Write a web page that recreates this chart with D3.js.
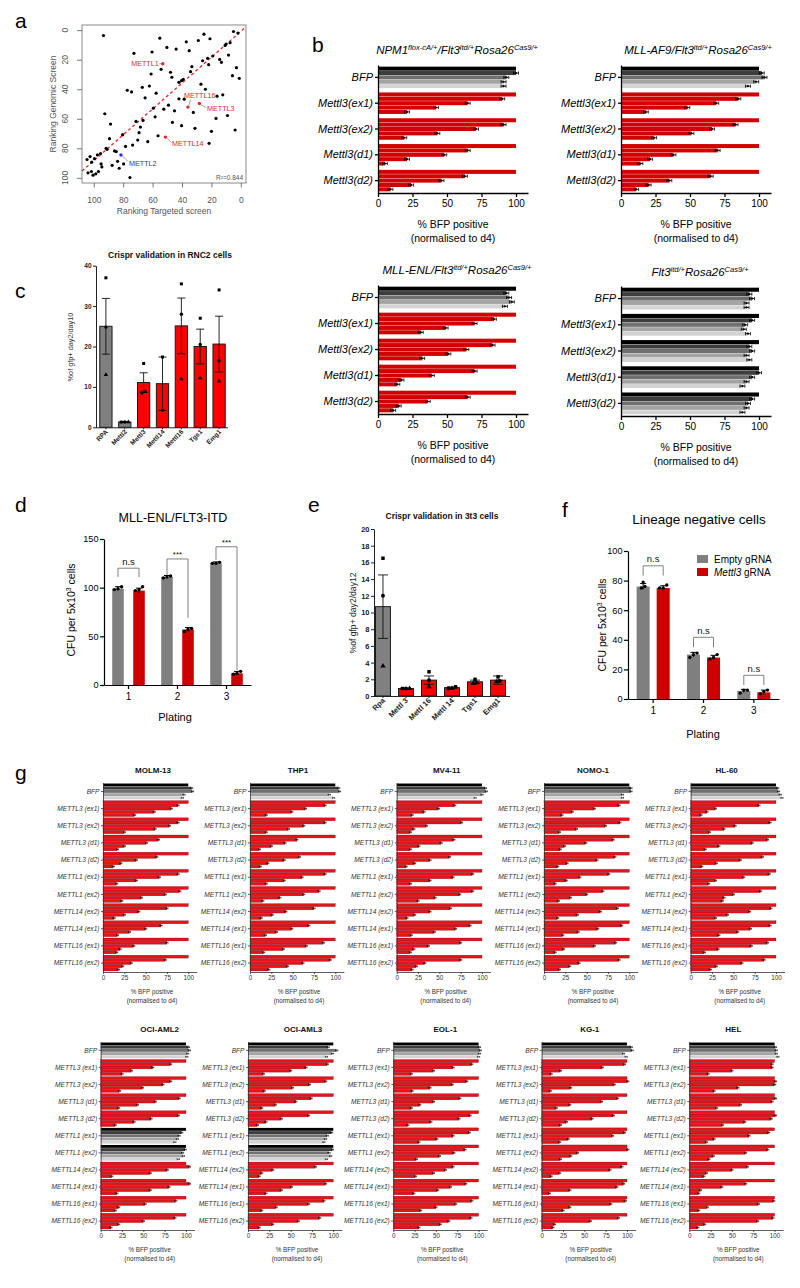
<!DOCTYPE html>
<html><head><meta charset="utf-8">
<script src="https://cdn.jsdelivr.net/npm/d3@7"></script>
<style>body{margin:0;background:#fff}svg{display:block}</style>
</head><body><script>
// ================= DATA =================
// Panel a: ranking scatter
const aTargeted = [93.4,72.7,60.4,55.1,50.3,44,37.1,35.1,28.9,25.1,21,5,2,7.3,10,10.7,8.4,14.4,13.2,22.6,21.9,26,19.1,33.3,34.2,47.8,46.9,61,54.2,39.2,42.1,40.3,3,5.7,1.1,27.1,24.1,62.2,67,77.2,74.3,65.1,57.6,42.1,38.5,16.2,12.3,49.2,52.4,59.5,45.1,32.3,9.1,16.9,58.3,92.5,66.5,71.3,88.6,68.3,46.5,40.3,31.2,20,3.9,69.2,70.1,73.6,78.4,80.4,89.3,63.3,56.3,21.6,91.6,90.9,95.4,85.9,84.7,83.8,79.7,87.5,82.7,104.6,102.5,99.5,97.5,101.4,103.9,101.6,100.5,98.6,96.8,94.5,75.4,95];
const aGenomic = [3.6,15.7,14.8,5.4,11.7,12.8,7.9,13.9,7,2.7,5.8,0.9,2,8.5,9.4,10.3,16.9,19.8,21.8,19.1,23.4,20.7,17.5,24.7,28.1,28.5,31.9,29.7,26.5,33.3,35.3,34.2,25.4,30.8,32.6,36.6,40,37.8,38.7,40.7,41.8,45.8,42.7,46.5,46.7,44.7,43.8,50.8,53.5,52.8,54.6,55.7,57.8,59.8,58.7,56.6,61.1,61.8,63.6,65.6,62.5,64.7,66.5,68.5,67.6,69.4,74.4,77.8,78.7,70.8,73.5,75.5,71.5,76.6,80,80.7,83.6,81.8,82.2,88.8,90.6,91.5,93.5,87.6,85.6,87,84.5,89.4,96.6,95.7,98.2,97.3,95.7,92.6,99.8,90.6];
const aHiNames = ["METTL1","METTL16","METTL3","METTL14","METTL2"];
const aHiTargeted = [53.1,36,28.2,51.3,81.5];
const aHiGenomic = [22.7,52.1,49.7,72.4,84.5];
const aTicks = [100,80,60,40,20,0];
const aSlope = 0.876, aIntercept = 0.8;
const aR2 = "R²=0.844";

// Panel b: mouse models, % BFP positive
const bGroups = ["BFP","Mettl3(ex1)","Mettl3(ex2)","Mettl3(d1)","Mettl3(d2)"];
const bTicks = [0,25,50,75,100];
const bNPM1 = [[100,100,93,91,91],[100,90,65,42,21],[100,91,71,43,19],[100,65,48,21,5],[100,63,46,24,9]];
const bMLLAF9 = [[100,102,104,98,92],[100,85,69,48,18],[100,83,66,51,24],[100,70,38,21,14],[100,65,35,20,11]];
const bMLLENL = [[100,93,95,97,92],[100,84,70,49,31],[100,83,64,51,32],[100,70,39,17,14],[100,65,36,15,11]];
const bFlt3 = [[100,93,95,91,91],[100,95,90,89,92],[100,93,95,91,93],[100,100,95,91,88],[100,95,92,91,88]];
const bErr = 1.8;

// Panel c: RNC2 validation
const cCats = ["RPA","Mettl2","Mettl3","Mettl14","Mettl16","Tgs1","Emg1"];
const cMean = [25,1.3,11.1,10.8,25.1,20,20.6];
const cSem = [6.9,0.1,2.4,6.6,6.9,4.3,6.9];
const cPoints = [[37,24.8,13],[1.3,1.3,1.3],[15.8,8.5,8.8],[17.4,4.2],[35.5,28,12],[27,20.5,12.2],[34,16.5,11.4]];
const cControls = ["RPA","Mettl2"];
const cTicks = [0,10,20,30,40];

// Panel d: MLL-ENL/FLT3-ITD CFU
const dCats = ["1","2","3"];
const dEmpty = [99,111,125], dEmptyErr = [2,1.5,1.5];
const dEmptyPts = [[101,99,98],[112,110,111],[126,125,125]];
const dMettl3 = [97,57,12], dMettl3Err = [2.5,2,2];
const dMettl3Pts = [[101,97,98],[58,55,57],[14,11,12]];
const dSig = ["n.s","***","***"];
const dBrTop = [120,129.5,142], dBrLeft = [111,113,128.5], dBrRight = [111,69,15.5];
const dTicks = [0,50,100,150];

// Panel e: 3t3 validation
const eCats = ["Rpa","Mettl 3","Mettl 16","Mettl 14","Tgs1","Emg1"];
const eMean = [10.7,0.9,1.9,1.0,1.7,1.9];
const eSem = [3.8,0.05,0.5,0.1,0.2,0.5];
const ePoints = [[16.5,12,3.6],[0.9,0.9,0.9],[2.9,1.9,1.1],[1.1,0.9,0.9],[2.0,1.6,1.5],[2.3,1.8,1.7]];
const eControls = ["Rpa"];
const eTicks = [0,2,4,6,8,10,12,14,16,18,20];

// Panel f: lineage negative cells CFU
const fCats = ["1","2","3"];
const fEmpty = [76,30,5.5], fEmptyErr = [2,1.5,1];
const fEmptyPts = [[79,76,75],[31,28,30],[6,4,6]];
const fMettl3 = [75,28,4.5], fMettl3Err = [1.5,1.5,1.5];
const fMettl3Pts = [[77,75,75],[30,27,28],[6,3.5,5]];
const fSig = ["n.s","n.s","n.s"];
const fBrTop = [90,41.7,16], fBrLeg = [83.4,35,9.4];
const fTicks = [0,20,40,60,80,100];

// Panel g: human AML lines
const gGroups = ["BFP","METTL3 (ex1)","METTL3 (ex2)","METTL3 (d1)","METTL3 (d2)","METTL1 (ex1)","METTL1 (ex2)","METTL14 (ex2)","METTL14 (ex1)","METTL16 (ex1)","METTL16 (ex2)"];
const gMOLM13 = [[100,104,105,95,93],[100,88,80,60,37],[100,88,78,61,25],[100,65,51,25,17],[100,63,39,21,12],[100,88,66,39,16],[100,90,73,45,22],[100,75,42,25,13],[100,68,50,31,17],[100,75,36,20,16],[100,73,33,23,18]];
const gTHP1 = [[100,104,105,93,98],[100,88,65,49,19],[100,88,63,45,19],[100,55,41,25,11],[100,58,40,21,12],[100,88,61,40,19],[100,81,63,35,15],[100,75,42,26,13],[100,69,49,31,18],[100,86,66,39,16],[100,94,62,44,22]];
const gMV411 = [[100,104,105,100,92],[100,68,49,32,18],[100,76,35,20,16],[100,67,52,26,16],[100,62,39,21,11],[100,89,66,39,16],[100,89,74,45,25],[100,63,39,21,12],[100,86,69,44,17],[100,75,37,20,16],[100,75,33,23,18]];
const gNOMO1 = [[100,102,102,92,92],[100,88,59,33,21],[100,89,72,38,18],[100,81,49,24,19],[100,83,62,27,16],[100,76,42,26,13],[100,69,50,31,17],[100,86,66,39,16],[100,91,63,40,22],[100,84,59,23,13],[100,88,41,30,18]];
const gHL60 = [[100,102,103,105,107],[100,80,29,19,12],[100,93,52,39,22],[100,90,72,33,17],[100,84,58,30,13],[100,92,62,29,21],[100,82,50,39,37],[100,94,69,43,29],[100,93,70,55,33],[100,90,71,32,16],[100,86,60,30,23]];
const gOCIAML2 = [[100,103,104,102,101],[100,82,61,36,25],[100,82,73,49,22],[100,92,64,43,21],[100,91,59,39,17],[100,95,92,90,87],[100,99,96,97,91],[100,104,78,58,13],[100,104,80,58,19],[100,88,52,21,17],[100,87,50,21,12]];
const gOCIAML3 = [[100,94,104,99,92],[100,93,68,50,18],[100,91,72,52,19],[100,74,56,32,16],[100,71,39,21,11],[100,98,93,91,89],[100,99,95,97,92],[100,79,29,16,13],[100,91,51,39,21],[100,89,71,33,16],[100,84,59,29,13]];
const gEOL1 = [[100,101,102,101,100],[100,92,70,47,21],[100,86,69,43,22],[100,78,47,31,21],[100,90,77,44,17],[100,89,70,51,30],[100,84,71,54,27],[100,70,61,47,26],[100,85,67,52,24],[100,92,73,50,32],[100,91,65,55,30]];
const gKG1 = [[100,105,106,96,99],[100,97,71,22,11],[100,101,85,34,10],[100,89,70,33,17],[100,84,59,29,22],[100,97,83,31,21],[100,101,42,34,22],[100,94,80,21,11],[100,96,88,33,9],[100,98,81,33,25],[100,90,57,15,13]];
const gHEL = [[100,101,102,102,104],[100,97,97,50,22],[100,101,100,57,29],[100,101,97,60,32],[100,101,96,65,39],[100,93,70,29,20],[100,92,66,28,23],[100,68,50,20,17],[100,66,38,13,11],[100,99,81,21,11],[100,98,80,18,10]];
const gErr = 1.3;

// ================= DRAWING =================
const FONT = "'Liberation Sans', Arial, Helvetica, sans-serif";
const svg = d3.select("body").append("svg").attr("width",800).attr("height",1288)
  .style("font-family",FONT);
const GRAYS = ["#000000","#3d3d3d","#707070","#a4a4a4","#d3d3d3"];

function txt(x,y,s,o={}){
  const t = svg.append("text").attr("x",x).attr("y",y).text(s)
    .attr("font-size",o.fs||10).attr("fill",o.fill||"#000").attr("text-anchor",o.anchor||"start");
  if(o.bold) t.attr("font-weight","bold");
  if(o.italic) t.attr("font-style","italic");
  if(o.rot!=null) t.attr("transform",`rotate(${o.rot},${x},${y})`);
  return t;
}
function rich(x,y,parts,o={}){
  const t = svg.append("text").attr("x",x).attr("y",y).attr("font-size",o.fs).attr("fill",o.fill||"#000")
    .attr("text-anchor",o.anchor||"middle");
  if(o.italic) t.attr("font-style","italic");
  if(o.rot!=null) t.attr("transform",`rotate(${o.rot},${x},${y})`);
  let shifted=false;
  parts.forEach(p=>{
    const ts = t.append("tspan").text(p[0]);
    if(p[1]){ ts.attr("font-size",o.sfs).attr("dy",-o.sh); shifted=true; }
    else if(shifted){ ts.attr("dy",o.sh); shifted=false; }
    if(p[2]) ts.attr("font-style","italic");
  });
  return t;
}
function axisStyle(sel,fs,color,sw,ex={}){
  sel.attr("font-family",FONT).attr("font-size",fs).attr("color",color);
  sel.selectAll("path,line").attr("stroke-width",sw);
  if(ex.bold) sel.selectAll("text").attr("font-weight","bold");
  if(ex.italic) sel.selectAll("text").attr("font-style","italic");
  return sel;
}
function spreadOffsets(vals,y,thr,gap){
  const idx = vals.map((v,i)=>i).sort((a,b)=>vals[a]-vals[b]);
  const off = vals.map(()=>0);
  let cl=[idx[0]];
  const flush=()=>cl.forEach((k,j)=>off[k]=(j-(cl.length-1)/2)*gap);
  for(let i=1;i<idx.length;i++){
    if(Math.abs(y(vals[idx[i]])-y(vals[cl[cl.length-1]]))<thr) cl.push(idx[i]);
    else { flush(); cl=[idx[i]]; }
  }
  flush();
  return off;
}

// ---- panel letters ----
[["a",15,28],["b",312,52],["c",15,298],["d",15,512],["e",308,512],["f",562,517],["g",15,780]]
  .forEach(([s,x,y])=>txt(x,y,s,{fs:21}));

// ---- Panel a ----
{
  const x = d3.scaleLinear().domain([108,-3.5]).range([82,246]);
  const y = d3.scaleLinear().domain([-3.5,103.5]).range([25,183]);
  const g = svg.append("g");
  g.append("rect").attr("x",82).attr("y",25).attr("width",164).attr("height",158)
    .attr("fill","none").attr("stroke","#8a8a8a").attr("stroke-width",1);
  const gx = g.append("g").attr("transform","translate(0,183)")
    .call(d3.axisBottom(x).tickValues(aTicks).tickSize(4.5).tickPadding(9));
  gx.select(".domain").remove();
  axisStyle(gx,8.5,"#555",0.8);
  const gy = g.append("g").attr("transform","translate(82,0)")
    .call(d3.axisLeft(y).tickValues(aTicks).tickSize(5).tickFormat(""));
  gy.select(".domain").remove();
  axisStyle(gy,8.5,"#555",0.8);
  aTicks.forEach(v=>g.append("text").attr("transform",`translate(68,${y(v)}) rotate(-90)`)
    .attr("text-anchor","middle").attr("font-size",8.5).attr("fill","#555").text(v));
  g.append("text").attr("transform","translate(55.5,104) rotate(-90)").attr("text-anchor","middle")
    .attr("font-size",8.5).attr("fill","#555").text("Ranking Genomic Screen");
  g.append("text").attr("x",164).attr("y",214).attr("text-anchor","middle")
    .attr("font-size",8.5).attr("fill","#555").text("Ranking Targeted screen");
  // fit line
  g.append("line").attr("x1",x(108)).attr("y1",y(aSlope*108+aIntercept))
    .attr("x2",x(-3.5)).attr("y2",y(aSlope*-3.5+aIntercept))
    .attr("stroke","#e8262b").attr("stroke-width",1.3).attr("stroke-dasharray","3,2.6");
  aTargeted.forEach((v,i)=>g.append("circle").attr("cx",x(v)).attr("cy",y(aGenomic[i])).attr("r",1.6).attr("fill","#000"));
  // highlighted genes (label layout offsets in px)
  const lay = [
    {dx:-4,dy:2.5,anchor:"end",l:[-3.5,0,-1.5,0]},
    {dx:-4,dy:-9.6,anchor:"start",l:[1,-1.5,2.5,-7.5]},
    {dx:7.6,dy:7,anchor:"start",l:[1.5,1,7,4]},
    {dx:6.6,dy:9.4,anchor:"start",l:[1.5,1,6,5.5]},
    {dx:8,dy:10.6,anchor:"start",l:[1.5,1,7,6.5]}
  ];
  aHiNames.forEach((n,i)=>{
    const px=x(aHiTargeted[i]), py=y(aHiGenomic[i]);
    const col = n==="METTL2" ? "#2f2fe0" : "#e8262b";
    const L = lay[i];
    g.append("line").attr("x1",px+L.l[0]).attr("y1",py+L.l[1]).attr("x2",px+L.l[2]).attr("y2",py+L.l[3])
      .attr("stroke","#777").attr("stroke-width",0.7);
    g.append("circle").attr("cx",px).attr("cy",py).attr("r",1.7).attr("fill",col);
    g.append("text").attr("x",px+L.dx).attr("y",py+L.dy).attr("text-anchor",L.anchor)
      .attr("font-size",7.2).attr("fill",col).text(n);
  });
  g.append("text").attr("x",243).attr("y",180).attr("text-anchor","end").attr("font-size",6.5)
    .attr("fill","#555").text(aR2);
}

// ---- horizontal grouped bar chart helper (panels b and g) ----
function hChart(o){
  const x = d3.scaleLinear().domain([0,o.xMax]).range([o.x0,o.x0+o.w]);
  const y = d3.scaleBand().domain(o.groups).range([o.top,o.bottom]).paddingInner(o.pin).paddingOuter(o.pout);
  const nb = o.data[0].length;
  const yb = d3.scaleBand().domain(d3.range(nb)).range([0,y.bandwidth()]).paddingInner(o.bpad);
  const g = svg.append("g");
  o.groups.forEach((grp,gi)=>{
    const isGray = o.gray.includes(grp);
    o.data[gi].forEach((v,bi)=>{
      const yy=y(grp)+yb(bi), h=yb.bandwidth();
      g.append("rect").attr("x",x(0)).attr("y",yy).attr("width",x(v)-x(0)).attr("height",h)
        .attr("fill",isGray?GRAYS[bi]:o.red)
        .attr("stroke",isGray?"none":(o.redStroke||"none")).attr("stroke-width",o.redSW||0);
      if(bi>0){
        const cy=yy+h/2, x1=x(v-o.err), x2=x(v+o.err);
        g.append("line").attr("x1",x1).attr("x2",x2).attr("y1",cy).attr("y2",cy).attr("stroke","#000").attr("stroke-width",o.ew);
        [x1,x2].forEach(xx=>g.append("line").attr("x1",xx).attr("x2",xx).attr("y1",cy-o.cap).attr("y2",cy+o.cap)
          .attr("stroke","#000").attr("stroke-width",o.ew));
        if(o.dot) g.append("circle").attr("cx",x(v)).attr("cy",cy).attr("r",o.dot).attr("fill","#000");
      }
    });
  });
  const gx = g.append("g").attr("transform",`translate(0,${o.bottom})`)
    .call(d3.axisBottom(x).tickValues(o.ticks).tickSize(o.tick).tickSizeOuter(0).tickPadding(o.tpad));
  axisStyle(gx,o.fsTick,o.axisColor,o.lw);
  const gy = g.append("g").attr("transform",`translate(${o.x0},0)`)
    .call(d3.axisLeft(y).tickSize(o.ytick).tickSizeOuter(0).tickPadding(o.ytpad));
  axisStyle(gy,o.fsY,o.axisColor,o.lw,{italic:true});
  gy.selectAll("text").attr("fill",o.labelColor);
  o.xTitle.forEach((s,i)=>g.append("text").attr("x",o.x0+o.xtDx).attr("y",o.bottom+o.xtY[i])
    .attr("text-anchor","middle").attr("font-size",o.fsXT).attr("fill",o.labelColor).text(s));
  return g;
}

// ---- Panel b ----
const bCommon = {groups:bGroups,xMax:108.7,w:150,pin:0.167,pout:0.064,bpad:0.08,red:"#d20000",
  err:bErr,ew:0.8,cap:1.6,dot:1.1,ticks:bTicks,tick:4,tpad:3,ytick:3,ytpad:2,fsTick:10,fsY:11,lw:1.3,
  axisColor:"#000",labelColor:"#000",xTitle:["% BFP positive","(normalised to d4)"],xtDx:75,xtY:[35,49],fsXT:10.5};
hChart(Object.assign({},bCommon,{x0:378,top:65,bottom:193,data:bNPM1,gray:["BFP"]}));
hChart(Object.assign({},bCommon,{x0:621,top:65,bottom:193,data:bMLLAF9,gray:["BFP"]}));
hChart(Object.assign({},bCommon,{x0:378,top:285,bottom:414,data:bMLLENL,gray:["BFP"]}));
hChart(Object.assign({},bCommon,{x0:621,top:286,bottom:416,data:bFlt3,gray:bGroups}));
const supOpt = {fs:11.5,sfs:7.5,sh:4.5,italic:true};
rich(457,54,[["NPM1"],["flox-cA/+",1],["/Flt3"],["itd/+",1],["Rosa26"],["Cas9/+",1]],supOpt);
rich(698,54,[["MLL-AF9/Flt3"],["itd/+",1],["Rosa26"],["Cas9/+",1]],supOpt);
rich(457,274,[["MLL-ENL/Flt3"],["itd/+",1],["Rosa26"],["Cas9/+",1]],supOpt);
rich(700,276,[["Flt3"],["itd/+",1],["Rosa26"],["Cas9/+",1]],supOpt);

// ---- vertical bar + points helper (panels c, e) ----
function vbarPanel(o){
  const y = d3.scaleLinear().domain(o.yDom).range([o.y0,o.y1]);
  const x = d3.scaleBand().domain(o.cats).range([o.x0,o.x1]).paddingInner(o.pin).paddingOuter(o.pout);
  const g = svg.append("g");
  const syms = [d3.symbolSquare,d3.symbolCircle,d3.symbolTriangle];
  o.cats.forEach((c,i)=>{
    const cx = x(c)+x.bandwidth()/2;
    g.append("rect").attr("x",x(c)).attr("y",y(o.mean[i])).attr("width",x.bandwidth())
      .attr("height",y(0)-y(o.mean[i])).attr("fill",o.ctrl.includes(c)?"#808080":"#ff0000")
      .attr("stroke","#1a1a1a").attr("stroke-width",o.sw);
    const lo=y(o.mean[i]-o.sem[i]), hi=y(o.mean[i]+o.sem[i]);
    g.append("line").attr("x1",cx).attr("x2",cx).attr("y1",lo).attr("y2",hi).attr("stroke","#111").attr("stroke-width",0.9);
    [lo,hi].forEach(yy=>g.append("line").attr("x1",cx-o.cap).attr("x2",cx+o.cap).attr("y1",yy).attr("y2",yy)
      .attr("stroke","#111").attr("stroke-width",0.9));
    const offs = spreadOffsets(o.pts[i],y,3,3.6);
    o.pts[i].forEach((v,j)=>g.append("path").attr("d",d3.symbol().type(syms[j%3]).size(o.symSize)())
      .attr("transform",`translate(${cx+offs[j]},${y(v)})`).attr("fill","#000"));
  });
  const gy = g.append("g").attr("transform",`translate(${o.x0},0)`)
    .call(d3.axisLeft(y).tickValues(o.ticks).tickSize(3).tickSizeOuter(0).tickPadding(1.5));
  axisStyle(gy,o.fsTick,"#222",1,{bold:true});
  const gx = g.append("g").attr("transform",`translate(0,${o.y0})`)
    .call(d3.axisBottom(x).tickSize(2).tickSizeOuter(0).tickFormat(""));
  axisStyle(gx,o.fsTick,"#222",1);
  gx.select(".domain").attr("d",`M${o.x0},0.5H${o.axisEnd}`);
  o.cats.forEach(c=>{
    const cx = x(c)+x.bandwidth()/2+2.5, yy=o.y0+o.labDy;
    g.append("text").attr("x",cx).attr("y",yy).attr("transform",`rotate(-45,${cx},${yy})`)
      .attr("text-anchor","end").attr("font-size",o.fsLab).attr("font-weight","bold").attr("fill","#222").text(c);
  });
  return {g,x,y};
}

// ---- Panel c ----
vbarPanel({cats:cCats,mean:cMean,sem:cSem,pts:cPoints,ctrl:cControls,yDom:[0,40],y0:427.3,y1:265.7,
  x0:96,x1:229,axisEnd:228,pin:0.35,pout:0.2,sw:1,cap:4,symSize:9,ticks:cTicks,fsTick:6.5,fsLab:6.5,labDy:5});
txt(170,258,"Crispr validation in RNC2 cells",{fs:8.5,bold:true,anchor:"middle",fill:"#111"});
txt(73,347,"%of gfp+ day2/day10",{fs:7.3,anchor:"middle",rot:-90,fill:"#333"});

// ---- Panel e ----
vbarPanel({cats:eCats,mean:eMean,sem:eSem,pts:ePoints,ctrl:eControls,yDom:[0,20],y0:696,y1:529,
  x0:374,x1:507,axisEnd:510,pin:0.35,pout:0.065,sw:1,cap:5,symSize:12,ticks:eTicks,fsTick:7.5,fsLab:7.5,labDy:5});
txt(442,519,"Crispr validation in 3t3 cells",{fs:8.5,bold:true,anchor:"middle",fill:"#111"});
txt(355.5,613,"%of gfp+ day2/day12",{fs:8.6,anchor:"middle",rot:-90,fill:"#222"});

// ---- grouped vertical CFU helper (panels d, f) ----
function cfuPanel(o){
  const y = d3.scaleLinear().domain(o.yDom).range([o.y0,o.y1]);
  const x = d3.scaleBand().domain(o.cats).range([o.x0,o.x1]).padding(0);
  const xs = d3.scaleBand().domain([0,1]).range([0,x.bandwidth()]).paddingInner(o.spin).paddingOuter(o.spout);
  const g = svg.append("g");
  const series = [{v:o.empty,e:o.emptyErr,p:o.emptyPts,c:"#7f7f7f"},{v:o.mettl3,e:o.mettl3Err,p:o.mettl3Pts,c:"#cc0000"}];
  o.cats.forEach((c,i)=>{
    series.forEach((s,k)=>{
      const bx = x(c)+xs(k), cx = bx+xs.bandwidth()/2;
      g.append("rect").attr("x",bx).attr("y",y(s.v[i])).attr("width",xs.bandwidth())
        .attr("height",y(0)-y(s.v[i])).attr("fill",s.c);
      const lo=y(s.v[i]-s.e[i]), hi=y(s.v[i]+s.e[i]);
      g.append("line").attr("x1",cx).attr("x2",cx).attr("y1",lo).attr("y2",hi).attr("stroke","#000").attr("stroke-width",1);
      g.append("line").attr("x1",cx-3).attr("x2",cx+3).attr("y1",hi).attr("y2",hi).attr("stroke","#000").attr("stroke-width",1);
      const offs = spreadOffsets(s.p[i],y,4,3.6);
      s.p[i].forEach((v,j)=>g.append("circle").attr("cx",cx+offs[j]).attr("cy",y(v)).attr("r",1.7).attr("fill","#000"));
    });
  });
  const gy = g.append("g").attr("transform",`translate(${o.x0},0)`)
    .call(d3.axisLeft(y).tickValues(o.ticks).tickSize(4).tickSizeOuter(0).tickPadding(1.5));
  axisStyle(gy,9.2,"#000",1.2);
  const gx = g.append("g").attr("transform",`translate(0,${o.y0})`)
    .call(d3.axisBottom(x).tickSize(4).tickSizeOuter(0).tickPadding(4));
  axisStyle(gx,10,"#000",1.2);
  // brackets
  o.cats.forEach((c,i)=>{
    const lx = x(c)+xs(0)+xs.bandwidth()/2, rx = x(c)+xs(1)+xs.bandwidth()/2;
    g.append("path").attr("d",`M${lx},${y(o.brL[i])}V${y(o.brTop[i])}H${rx}V${y(o.brR[i])}`)
      .attr("fill","none").attr("stroke","#808080").attr("stroke-width",1);
    const star = o.sig[i]==="***";
    g.append("text").attr("x",(lx+rx)/2).attr("y",y(o.brTop[i])-(star?1.5:3.5)).attr("text-anchor","middle")
      .attr("font-size",star?8:9.5).attr("fill","#111").text(o.sig[i]);
  });
  return {g,x,y};
}

// ---- Panel d ----
cfuPanel({cats:dCats,empty:dEmpty,emptyErr:dEmptyErr,emptyPts:dEmptyPts,mettl3:dMettl3,mettl3Err:dMettl3Err,
  mettl3Pts:dMettl3Pts,yDom:[0,150],y0:685,y1:539,x0:104,x1:251,spin:0.45,spout:0.39,ticks:dTicks,
  sig:dSig,brTop:dBrTop,brL:dBrLeft,brR:dBrRight});
txt(173,521.5,"MLL-ENL/FLT3-ITD",{fs:12.5,anchor:"middle"});
txt(175,721,"Plating",{fs:11,anchor:"middle"});
rich(75,610,[["CFU per 5x10"],["3",1],[" cells"]],{fs:10.5,sfs:7,sh:4,rot:-90});

// ---- Panel f ----
cfuPanel({cats:fCats,empty:fEmpty,emptyErr:fEmptyErr,emptyPts:fEmptyPts,mettl3:fMettl3,mettl3Err:fMettl3Err,
  mettl3Pts:fMettl3Pts,yDom:[0,100],y0:699,y1:551,x0:628,x1:779,spin:0.35,spout:0.43,ticks:fTicks,
  sig:fSig,brTop:fBrTop,brL:fBrLeg,brR:fBrLeg});
txt(699,524,"Lineage negative cells",{fs:13.5,anchor:"middle"});
txt(703,738,"Plating",{fs:11,anchor:"middle"});
rich(606,625,[["CFU per 5x10"],["3",1],[" cells"]],{fs:10.5,sfs:7,sh:4,rot:-90});
svg.append("rect").attr("x",697).attr("y",555).attr("width",11).attr("height",8).attr("fill","#7f7f7f");
svg.append("rect").attr("x",697).attr("y",568).attr("width",11).attr("height",8).attr("fill","#cc0000");
txt(714,562.5,"Empty gRNA",{fs:10});
rich(714,575.5,[["Mettl3",0,1],[" gRNA"]],{fs:10,sfs:10,sh:0,anchor:"start"});

// ---- Panel g ----
const gCells = [
  {name:"MOLM-13",data:gMOLM13,gray:["BFP"],x0:103,row:0,tdx:50},
  {name:"THP1",data:gTHP1,gray:["BFP"],x0:250,row:0,tdx:48},
  {name:"MV4-11",data:gMV411,gray:["BFP"],x0:396.7,row:0,tdx:50},
  {name:"NOMO-1",data:gNOMO1,gray:["BFP"],x0:544,row:0,tdx:49},
  {name:"HL-60",data:gHL60,gray:["BFP"],x0:690.7,row:0,tdx:36},
  {name:"OCI-AML2",data:gOCIAML2,gray:["BFP","METTL1 (ex1)","METTL1 (ex2)"],x0:100.7,row:1,tdx:59},
  {name:"OCI-AML3",data:gOCIAML3,gray:["BFP","METTL1 (ex1)","METTL1 (ex2)"],x0:248,row:1,tdx:55},
  {name:"EOL-1",data:gEOL1,gray:["BFP"],x0:393.3,row:1,tdx:52},
  {name:"KG-1",data:gKG1,gray:["BFP"],x0:541.7,row:1,tdx:48},
  {name:"HEL",data:gHEL,gray:["BFP"],x0:689.3,row:1,tdx:44}
];
const gRows = [{top:782.5,bottom:972,title:773},{top:1041.5,bottom:1230,title:1031.5}];
gCells.forEach(c=>{
  const r = gRows[c.row];
  hChart({groups:gGroups,data:c.data,gray:c.gray,x0:c.x0,top:r.top,bottom:r.bottom,xMax:110,w:93.8,
    pin:0.08,pout:0.06,bpad:0.1,red:"#e3141c",redStroke:"#6a0000",redSW:0.3,err:gErr,ew:0.6,cap:0.9,dot:0,
    ticks:[0,25,50,75,100],tick:2,tpad:1.8,ytick:2,ytpad:1.5,fsTick:6.3,fsY:6.6,lw:0.8,axisColor:"#333",
    labelColor:"#333",xTitle:["% BFP positive","(normalised to d4)"],xtDx:49,xtY:[22,30.5],fsXT:6.3});
  txt(c.x0+c.tdx,r.title,c.name,{fs:8,bold:true,anchor:"middle",fill:"#111"});
});
</script></body></html>
